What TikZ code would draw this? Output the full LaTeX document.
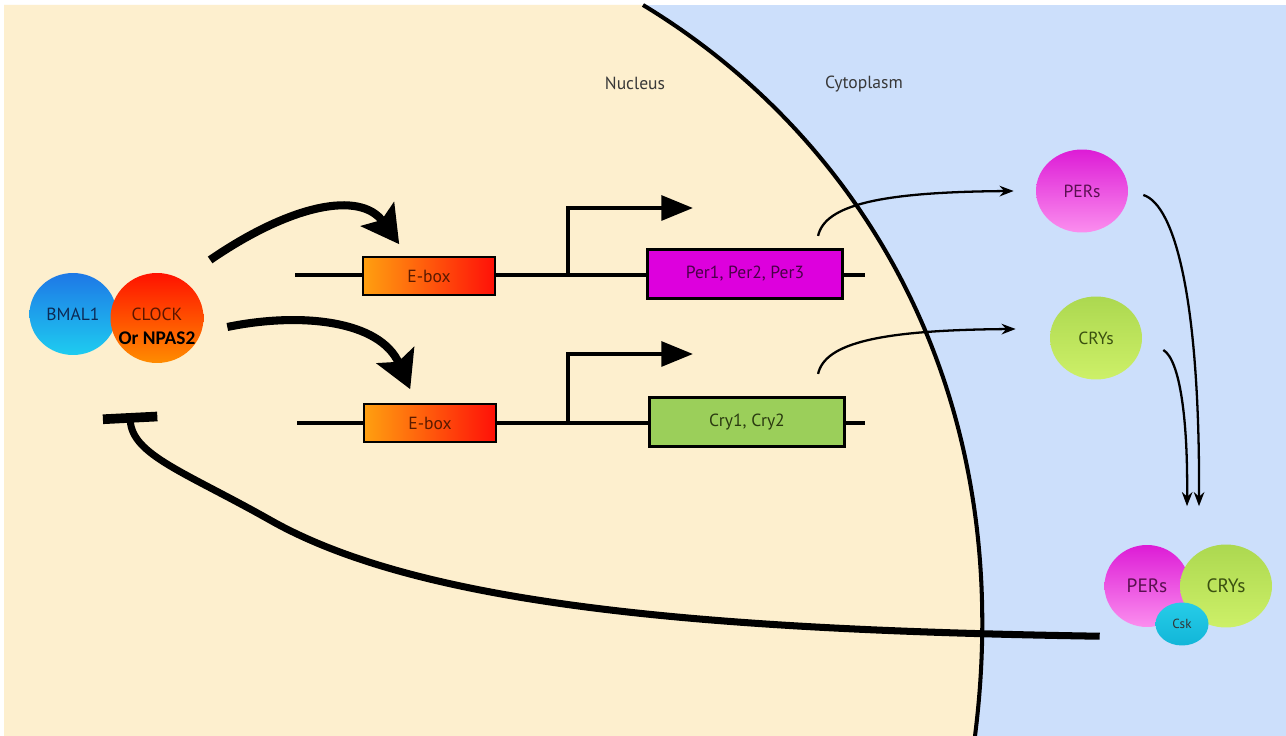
\documentclass[tikz,border=0pt]{standalone}
\usepackage{fontspec}
\setmainfont{PT Sans}
\newfontfamily\calfont{Carlito}
\usepackage{xcolor}
\usetikzlibrary{shapes.geometric, arrows.meta}

\definecolor{nucbg}{HTML}{FDEFCE}
\definecolor{cytbg}{HTML}{CCDFFB}
\definecolor{labtxt}{HTML}{383838}
\definecolor{eboxL}{HTML}{FFA010}
\definecolor{eboxR}{HTML}{FF1008}
\definecolor{eboxtxt}{HTML}{5A1A00}
\definecolor{permag}{HTML}{DD00DD}
\definecolor{pertxt}{HTML}{4A0048}
\definecolor{crygrn}{HTML}{9BCF5A}
\definecolor{crytxt}{HTML}{2A3A10}
\definecolor{bmalT}{HTML}{1E78E6}
\definecolor{bmalB}{HTML}{1ECCF0}
\definecolor{bmaltxt}{HTML}{0D2A55}
\definecolor{clockT}{HTML}{FF1200}
\definecolor{clockB}{HTML}{FF8C00}
\definecolor{clocktxt}{HTML}{5A1500}
\definecolor{persT}{HTML}{DD1CD6}
\definecolor{persB}{HTML}{FB8EEE}
\definecolor{perstxt}{HTML}{5A1050}
\definecolor{crysT}{HTML}{ACD850}
\definecolor{crysB}{HTML}{CDF068}
\definecolor{crystxt}{HTML}{3A5010}
\definecolor{cskT}{HTML}{26CCE8}
\definecolor{cskB}{HTML}{12B6D8}

\tikzset{
  gene/.style={line width=2.4pt},
  genebox/.style={draw, line width=1.8pt, inner sep=0pt, minimum width=3.9cm, minimum height=0.98cm},
  ebox/.style={draw, line width=0.9pt, inner sep=0pt, minimum width=2.64cm, minimum height=0.76cm,
    left color=eboxL, right color=eboxR, text=eboxtxt},
  prot/.style={ellipse, inner sep=0pt},
  bigarrow/.style={line width=4.6pt, -{Stealth[length=21pt,width=23pt,inset=4pt]}},
  thinarrow/.style={line width=1.3pt, -{Stealth[length=8pt,width=6pt]}},
  tss/.style={line width=2.4pt, -{Triangle[length=18pt,width=14pt]}},
  inhib/.style={line width=4pt, -{Bar[width=31pt,line width=5.5pt]}},
}

\begin{document}
\begin{tikzpicture}[x=0.02cm, y=-0.02cm, font=\fontsize{10}{12}\selectfont]
\useasboundingbox (0,0) rectangle (1286,736);
\fill[white] (0,0) rectangle (1286,736);
\fill[cytbg] (4,5) rectangle (1286,736);
\fill[nucbg] (4,5) -- (643,5) .. controls (850,130) and (1020,380) .. (975,736) -- (4,736) -- cycle;
\draw[line width=2.3pt] (643,5) .. controls (850,130) and (1020,380) .. (975,736);

\node[text=labtxt] (nucl) at (635,83) {Nucleus};
\node[text=labtxt] (cyto) at (864,84) {Cytoplasm};

% per row
\coordinate (l1a) at (295,275);
\coordinate (l1b) at (865,275);
\draw[gene] (l1a) -- (l1b);
\node[ebox] (ebox1) at (429,276) {E-box};
\node[genebox, fill=permag, text=pertxt] (per) at (745,274) {Per1, Per2, Per3};
\coordinate (tss1) at (568,275);
\coordinate (tss1end) at (693,208);
\draw[tss] (tss1) |- (tss1end);

% cry row
\coordinate (l2a) at (297,423);
\coordinate (l2b) at (865,423);
\draw[gene] (l2a) -- (l2b);
\node[ebox] (ebox2) at (430,423) {E-box};
\node[genebox, fill=crygrn, text=crytxt] (cry) at (747,422) {Cry1, Cry2};
\coordinate (tss2) at (568,423);
\coordinate (tss2end) at (693,354);
\draw[tss] (tss2) |- (tss2end);

% activators
\node[prot, minimum width=1.74cm, minimum height=1.64cm, top color=bmalT, bottom color=bmalB, text=bmaltxt] (bmal) at (73,314) {BMAL1};
\node[prot, minimum width=1.86cm, minimum height=1.8cm, top color=clockT, bottom color=clockB] (clock) at (157,318) {};
\node[align=center, inner sep=0pt] (clocklbl) at (157,326) {\textcolor{clocktxt}{CLOCK}\\[1.5pt]{\calfont\bfseries\fontsize{11}{12}\selectfont Or NPAS2}};

% cytoplasm proteins
\node[prot, minimum width=1.84cm, minimum height=1.66cm, top color=persT, bottom color=persB, text=perstxt] (pers) at (1082,191) {PERs};
\node[prot, minimum width=1.84cm, minimum height=1.66cm, top color=crysT, bottom color=crysB, text=crystxt] (crys) at (1096,338) {CRYs};

% complex
\node[prot, minimum width=1.7cm, minimum height=1.64cm, top color=persT, bottom color=persB, text=perstxt, font=\fontsize{11}{12}\selectfont] (cpxper) at (1147,586) {PERs};
\node[prot, minimum width=1.84cm, minimum height=1.66cm, top color=crysT, bottom color=crysB, text=crystxt, font=\fontsize{11}{12}\selectfont] (cpxcry) at (1226,586) {CRYs};
\node[prot, minimum width=1.06cm, minimum height=0.86cm, top color=cskT, bottom color=cskB, text=black!80, font=\fontsize{7.5}{8}\selectfont] (csk) at (1182,624) {Csk};

% activation arrows
\draw[bigarrow] ([xshift=0.4cm,yshift=0.52cm]clock.north east) .. controls (290,205) and (360,190) .. ([xshift=0.74cm,yshift=0.24cm]ebox1.north west);
\draw[bigarrow] ([xshift=0.47cm,yshift=-0.18cm]clock.east) .. controls (300,312) and (380,320) .. ([xshift=0.94cm,yshift=0.28cm]ebox2.north west);

% export
\draw[thinarrow] ([xshift=-0.52cm,yshift=0.24cm]per.north east) .. controls (825,205) and (880,192) .. ([xshift=-0.44cm]pers.west);
\draw[thinarrow] ([xshift=-0.56cm,yshift=0.44cm]cry.north east) .. controls (825,343) and (880,330) .. ([xshift=-0.68cm,yshift=0.18cm]crys.west);
\draw[thinarrow] ([xshift=0.3cm,yshift=-0.08cm]pers.east) .. controls (1175,205) and (1200,300) .. ([xshift=-0.54cm,yshift=0.76cm]cpxcry.north);
\draw[thinarrow] ([xshift=0.42cm,yshift=-0.24cm]crys.east) .. controls (1180,360) and (1188,420) .. ([xshift=-0.78cm,yshift=0.76cm]cpxcry.north);

% feedback
\draw[inhib] ([xshift=-0.34cm,yshift=-0.42cm]cpxper.south west) .. controls (700,630) and (420,605) .. (270,520)
  .. controls (185,472) and (132,455) .. ([xshift=0.12cm,yshift=-1.26cm]clock.south west);
\end{tikzpicture}
\end{document}
